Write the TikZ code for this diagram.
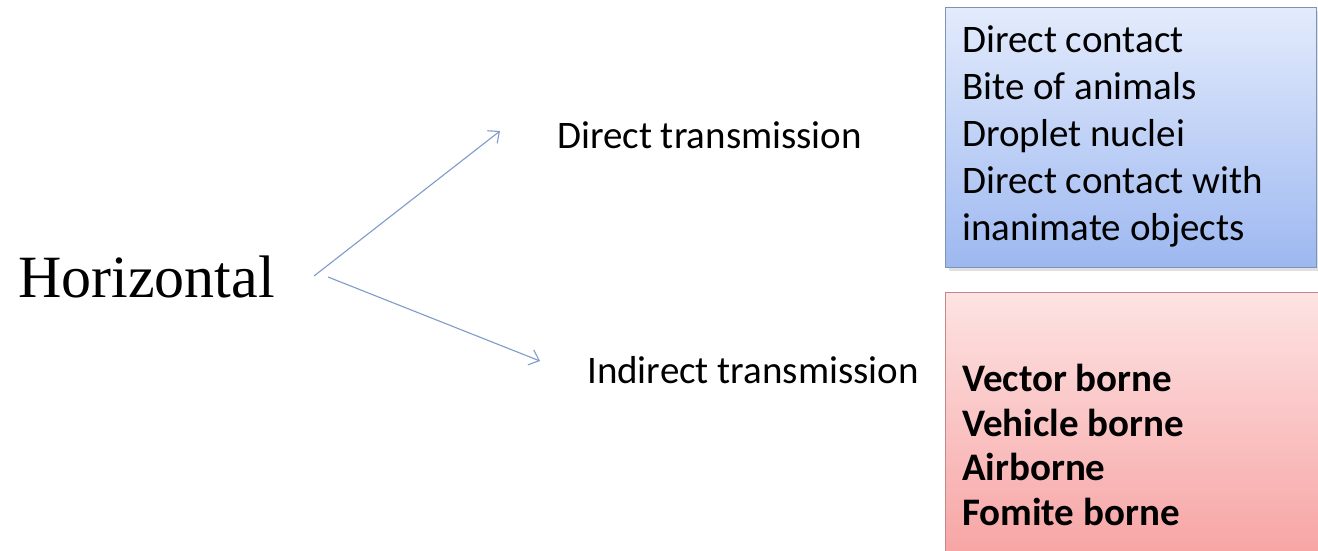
\documentclass[tikz,border=0pt]{standalone}
\usepackage{fontspec}
\setmainfont{Carlito}
\newfontfamily\serifhead{Liberation Serif}
\usetikzlibrary{arrows.meta}
\definecolor{arrowblue}{HTML}{7F9BCB}
\definecolor{bluetop}{HTML}{E3EBFC}
\definecolor{bluebot}{HTML}{9DB8F0}
\definecolor{blueedge}{HTML}{7E93B5}
\definecolor{redtop}{HTML}{FDE3E3}
\definecolor{redbot}{HTML}{F7A3A3}
\definecolor{rededge}{HTML}{C48686}
\tikzset{
  listtext/.style={anchor=base west, align=left, inner sep=0pt,
    font=\fontsize{39}{47}\selectfont},
  boldlist/.style={anchor=base west, align=left, inner sep=0pt,
    font=\bfseries\fontsize{39}{44.5}\selectfont},
  branch/.style={anchor=base west, inner sep=0pt, font=\fontsize{39}{45}\selectfont},
  link/.style={draw=arrowblue, line width=1.1pt, -{Straight Barb[length=9pt,width=16pt]}},
}
\begin{document}
\begin{tikzpicture}[x=1pt,y=-1pt]
  \useasboundingbox (0,0) rectangle (1318,551);
  % background
  \fill[white] (0,0) rectangle (1318,551);
  % category boxes
  \fill[black, opacity=0.12] (949,11) rectangle (1319,271);
  \shade[top color=bluetop, bottom color=bluebot] (945,8) rectangle (1316,267);
  \draw[draw=blueedge, line width=1pt] (945,8) rectangle (1316,267);
  \shade[top color=redtop, bottom color=redbot] (945,292) rectangle (1318,560);
  \draw[draw=rededge, line width=1pt] (945,292) rectangle (1318,560);

  % labels
  \node[anchor=base west, inner sep=0pt, font=\serifhead\fontsize{60}{70}\selectfont]
    (hor) at (18,297) {Horizontal};
  \node[branch] (dir) at (557,148) {Direct transmission};
  \node[branch] (ind) at (587,383) {Indirect transmission};

  % item lists (anchored at the baseline of their last line)
  \node[listtext] (dlist) at (962,240)
    {Direct contact\\Bite of animals\\Droplet nuclei\\Direct contact with\\inanimate objects};
  \node[boldlist] (ilist) at (962,525)
    {Vector borne\\Vehicle borne\\Airborne\\Fomite borne};

  % connectors
  \coordinate (up0) at (314,276);
  \coordinate (dn0) at (328,277);
  \coordinate (up1) at (500,131);
  \coordinate (dn1) at (540,361);
  \draw[link] (up0) -- (up1);
  \draw[link] (dn0) -- (dn1);
\end{tikzpicture}
\end{document}
